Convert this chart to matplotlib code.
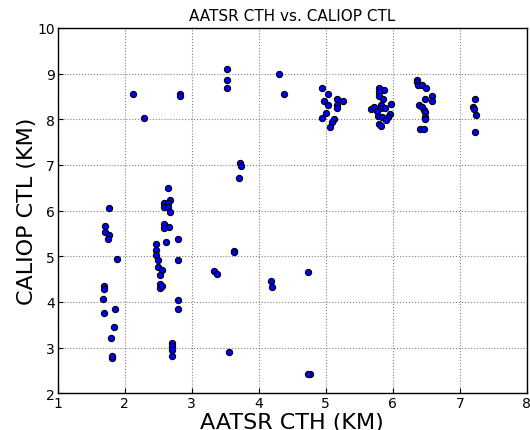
import matplotlib
matplotlib.use('Agg')
import matplotlib.pyplot as plt

# AATSR cloud top height vs CALIOP cloud top level (km)
aatsr_cth = [
    1.77, 1.71, 1.71, 1.76, 1.75, 1.88, 1.69, 1.69, 1.68, 1.69, 1.85, 1.84, 1.80, 1.81, 1.81,
    2.12, 2.29, 2.83, 2.83,
    2.65, 2.67, 2.59, 2.64, 2.59, 2.64, 2.67, 2.58, 2.66, 2.59, 2.61, 2.80,
    2.47, 2.47, 2.47, 2.49, 2.80, 2.49, 2.55, 2.52, 2.53, 2.53, 2.55,
    2.79, 2.79, 2.70, 2.70, 2.71, 2.70,
    3.33, 3.37, 3.56, 3.63, 3.63, 3.72, 3.73, 3.71,
    3.53, 3.53, 3.53, 4.30, 4.37,
    4.95, 5.04, 4.97, 5.03, 5.16, 5.16, 5.17, 5.25, 5.01, 4.94, 5.12, 5.10, 5.07,
    4.18, 4.19, 4.73, 4.76, 4.74,
    5.79, 5.87, 5.80, 5.80, 5.86, 5.68, 5.72, 5.82, 5.82, 5.88, 5.97, 5.76, 5.78,
    5.84, 5.96, 5.93, 5.90, 5.79, 5.82,
    6.36, 6.36, 6.37, 6.44, 6.49, 6.59, 6.59, 6.48, 6.39, 6.43, 6.47, 6.48, 6.48, 6.48,
    6.41, 6.46,
    7.23, 7.19, 7.21, 7.24, 7.23,
]
caliop_ctl = [
    6.06, 5.67, 5.53, 5.46, 5.38, 4.94, 4.34, 4.29, 4.06, 3.77, 3.85, 3.46, 3.21, 2.78, 2.82,
    8.56, 8.02, 8.56, 8.51,
    6.50, 6.24, 6.17, 6.17, 6.07, 6.07, 5.96, 5.70, 5.64, 5.61, 5.32, 5.37,
    5.26, 5.13, 5.02, 4.91, 4.92, 4.76, 4.70, 4.58, 4.39, 4.31, 4.36,
    4.05, 3.84, 3.11, 3.04, 2.94, 2.82,
    4.68, 4.61, 2.90, 5.12, 5.09, 7.05, 6.98, 6.72,
    9.10, 8.86, 8.68, 8.98, 8.56,
    8.68, 8.56, 8.39, 8.32, 8.44, 8.31, 8.25, 8.39, 8.13, 8.03, 8.01, 7.94, 7.83,
    4.47, 4.32, 4.65, 2.43, 2.42,
    8.68, 8.63, 8.59, 8.50, 8.44, 8.22, 8.26, 8.31, 8.24, 8.25, 8.33, 8.17, 8.08,
    8.05, 8.11, 8.04, 7.99, 7.89, 7.85,
    8.87, 8.82, 8.74, 8.74, 8.68, 8.51, 8.39, 8.44, 8.32, 8.27, 8.20, 8.15, 8.05, 8.00,
    7.78, 7.78,
    8.44, 8.27, 8.22, 8.09, 7.73,
]

fig = plt.figure(figsize=(5.3, 4.31), dpi=100)
ax = fig.add_axes([0.109, 0.085, 0.885, 0.848])

ax.scatter(aatsr_cth, caliop_ctl, s=20, c='#0000ff', edgecolors='black',
           linewidths=0.8, zorder=3)

ax.set_xlim(1, 8)
ax.set_ylim(2, 10)
ax.set_title('AATSR CTH vs. CALIOP CTL', fontsize=11)
ax.set_xlabel('AATSR CTH (KM)', fontsize=16, labelpad=1)
ax.set_ylabel('CALIOP CTL (KM)', fontsize=16, labelpad=0)
ax.grid(True, linestyle=':', color='gray', linewidth=0.8)
ax.tick_params(direction='in', labelsize=10, pad=2)
for sp in ax.spines.values():
    sp.set_linewidth(1.0)

plt.savefig('out.png', dpi=100)
